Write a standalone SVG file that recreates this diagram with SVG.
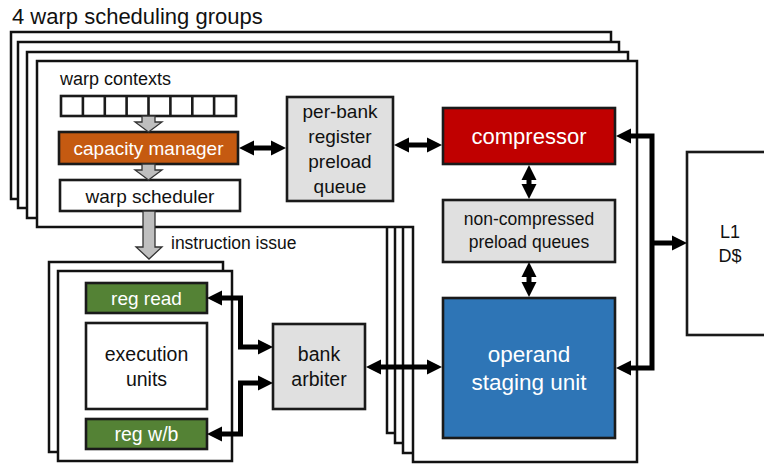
<svg xmlns="http://www.w3.org/2000/svg" width="764" height="464" viewBox="0 0 764 464">
<defs>
<style>
text{font-family:"Liberation Sans",Arial,sans-serif;fill:#111;text-anchor:middle}
.frame{fill:#fff;stroke:#111;stroke-width:2.5;stroke-linejoin:miter}
.box{stroke:#1a1a1a;stroke-width:2.6}
.white{fill:#fff}
.gray{fill:#e0e0e0}
.w{fill:#fff}
.conn{fill:none;stroke:#000;stroke-width:5;stroke-linejoin:miter}
.garrow{fill:#bfbfbf;stroke:#333;stroke-width:1.3}
</style>
<marker id="ah" markerUnits="userSpaceOnUse" markerWidth="16" markerHeight="16" refX="1" refY="7.5" orient="auto-start-reverse" viewBox="0 0 16 15">
<path d="M0,0 L15,7.5 L0,15 z" fill="#000"/>
</marker>
</defs>
<rect width="764" height="464" fill="#fff"/>
<text x="12" y="24" font-size="22" style="text-anchor:start">4 warp scheduling groups</text>

<g id="warp-groups">
<polygon class="frame" points="11,32 611,32 611,433 387,433 387,199 11,199"/>
<polygon class="frame" points="18,42 619,42 619,443 395,443 395,208 18,208"/>
<polygon class="frame" points="27,52 628,52 628,453 403,453 403,218 27,218"/>
<polygon class="frame" points="37,61 637,61 637,462 413,462 413,227 37,227"/>
</g>

<g id="warp-contexts">
<text x="60" y="85" font-size="18" style="text-anchor:start">warp contexts</text>
<rect class="box white" x="61" y="96" width="175" height="20"/>
<path d="M82.9,96V116M104.8,96V116M126.6,96V116M148.5,96V116M170.4,96V116M192.3,96V116M214.1,96V116" stroke="#1a1a1a" stroke-width="2.6"/>
</g>

<g id="capacity-manager">
<rect class="box" x="59" y="132" width="179" height="32" fill="#c55a11"/>
<text class="w" x="148.5" y="154.5" font-size="19">capacity manager</text>
</g>

<g id="warp-scheduler">
<rect class="box white" x="60" y="180" width="180" height="31"/>
<text x="150" y="203" font-size="19">warp scheduler</text>
</g>

<g id="per-bank-queue">
<rect class="box gray" x="287" y="97" width="106" height="104"/>
<text x="340" y="118" font-size="19">per-bank</text>
<text x="340" y="143" font-size="19">register</text>
<text x="340" y="168" font-size="19">preload</text>
<text x="340" y="193" font-size="19">queue</text>
</g>

<g id="compressor">
<rect class="box" x="443" y="108" width="172" height="56" fill="#c00000"/>
<text class="w" x="529" y="144" font-size="22">compressor</text>
</g>

<g id="non-compressed-queues">
<rect class="box gray" x="443" y="200" width="172" height="62"/>
<text x="529" y="225" font-size="17.5">non-compressed</text>
<text x="529" y="248" font-size="17.5">preload queues</text>
</g>

<g id="operand-staging-unit">
<rect class="box" x="443" y="298" width="172" height="140" fill="#2e75b6"/>
<text class="w" x="529" y="362" font-size="22.5">operand</text>
<text class="w" x="529" y="390" font-size="22.5">staging unit</text>
</g>

<g id="l1-cache">
<rect class="box white" x="687" y="152" width="100" height="183"/>
<text x="730" y="238" font-size="18">L1</text>
<text x="730" y="262" font-size="18">D$</text>
</g>

<g id="exec-stack">
<rect class="frame" x="49" y="262" width="174" height="190"/>
<rect class="frame" x="58" y="271" width="174" height="190"/>
</g>

<g id="reg-read">
<rect class="box" x="86" y="283" width="121" height="30" fill="#548235"/>
<text class="w" x="146.5" y="305" font-size="19">reg read</text>
</g>

<g id="execution-units">
<rect class="box white" x="86" y="323" width="121" height="86"/>
<text x="146.5" y="361" font-size="19.5">execution</text>
<text x="146.5" y="386" font-size="19.5">units</text>
</g>

<g id="reg-wb">
<rect class="box" x="86" y="419" width="121" height="30" fill="#548235"/>
<text class="w" x="146.5" y="441" font-size="19.5">reg w/b</text>
</g>

<g id="bank-arbiter">
<rect class="box gray" x="273" y="324" width="92" height="85"/>
<text x="319" y="361" font-size="19.5">bank</text>
<text x="319" y="386" font-size="19.5">arbiter</text>
</g>

<g id="connectors">
<polygon class="garrow" points="142,116 155,116 155,122 162,122 148.5,132 135,122 142,122"/>
<polygon class="garrow" points="142,164 155,164 155,170 162,170 148.5,180 135,170 142,170"/>
<polygon class="garrow" points="143,211 155,211 155,247 162,247 149,259 136,247 143,247"/>
<text x="171" y="249" font-size="17.5" style="text-anchor:start">instruction issue</text>
<path class="conn" d="M253,148H272" marker-start="url(#ah)" marker-end="url(#ah)"/>
<path class="conn" d="M408,145H428" marker-start="url(#ah)" marker-end="url(#ah)"/>
<path class="conn" d="M529,179V185" marker-start="url(#ah)" marker-end="url(#ah)"/>
<path class="conn" d="M529,276V283" marker-start="url(#ah)" marker-end="url(#ah)"/>
<path class="conn" d="M630,136H652V368H630" marker-start="url(#ah)" marker-end="url(#ah)"/>
<path class="conn" d="M652,243H673" marker-end="url(#ah)"/>
<path class="conn" d="M380,367H428" marker-start="url(#ah)" marker-end="url(#ah)"/>
<path class="conn" d="M221,298H240.5V347H259" marker-start="url(#ah)" marker-end="url(#ah)"/>
<path class="conn" d="M221,434H240.5V383H259" marker-start="url(#ah)" marker-end="url(#ah)"/>
</g>
</svg>
